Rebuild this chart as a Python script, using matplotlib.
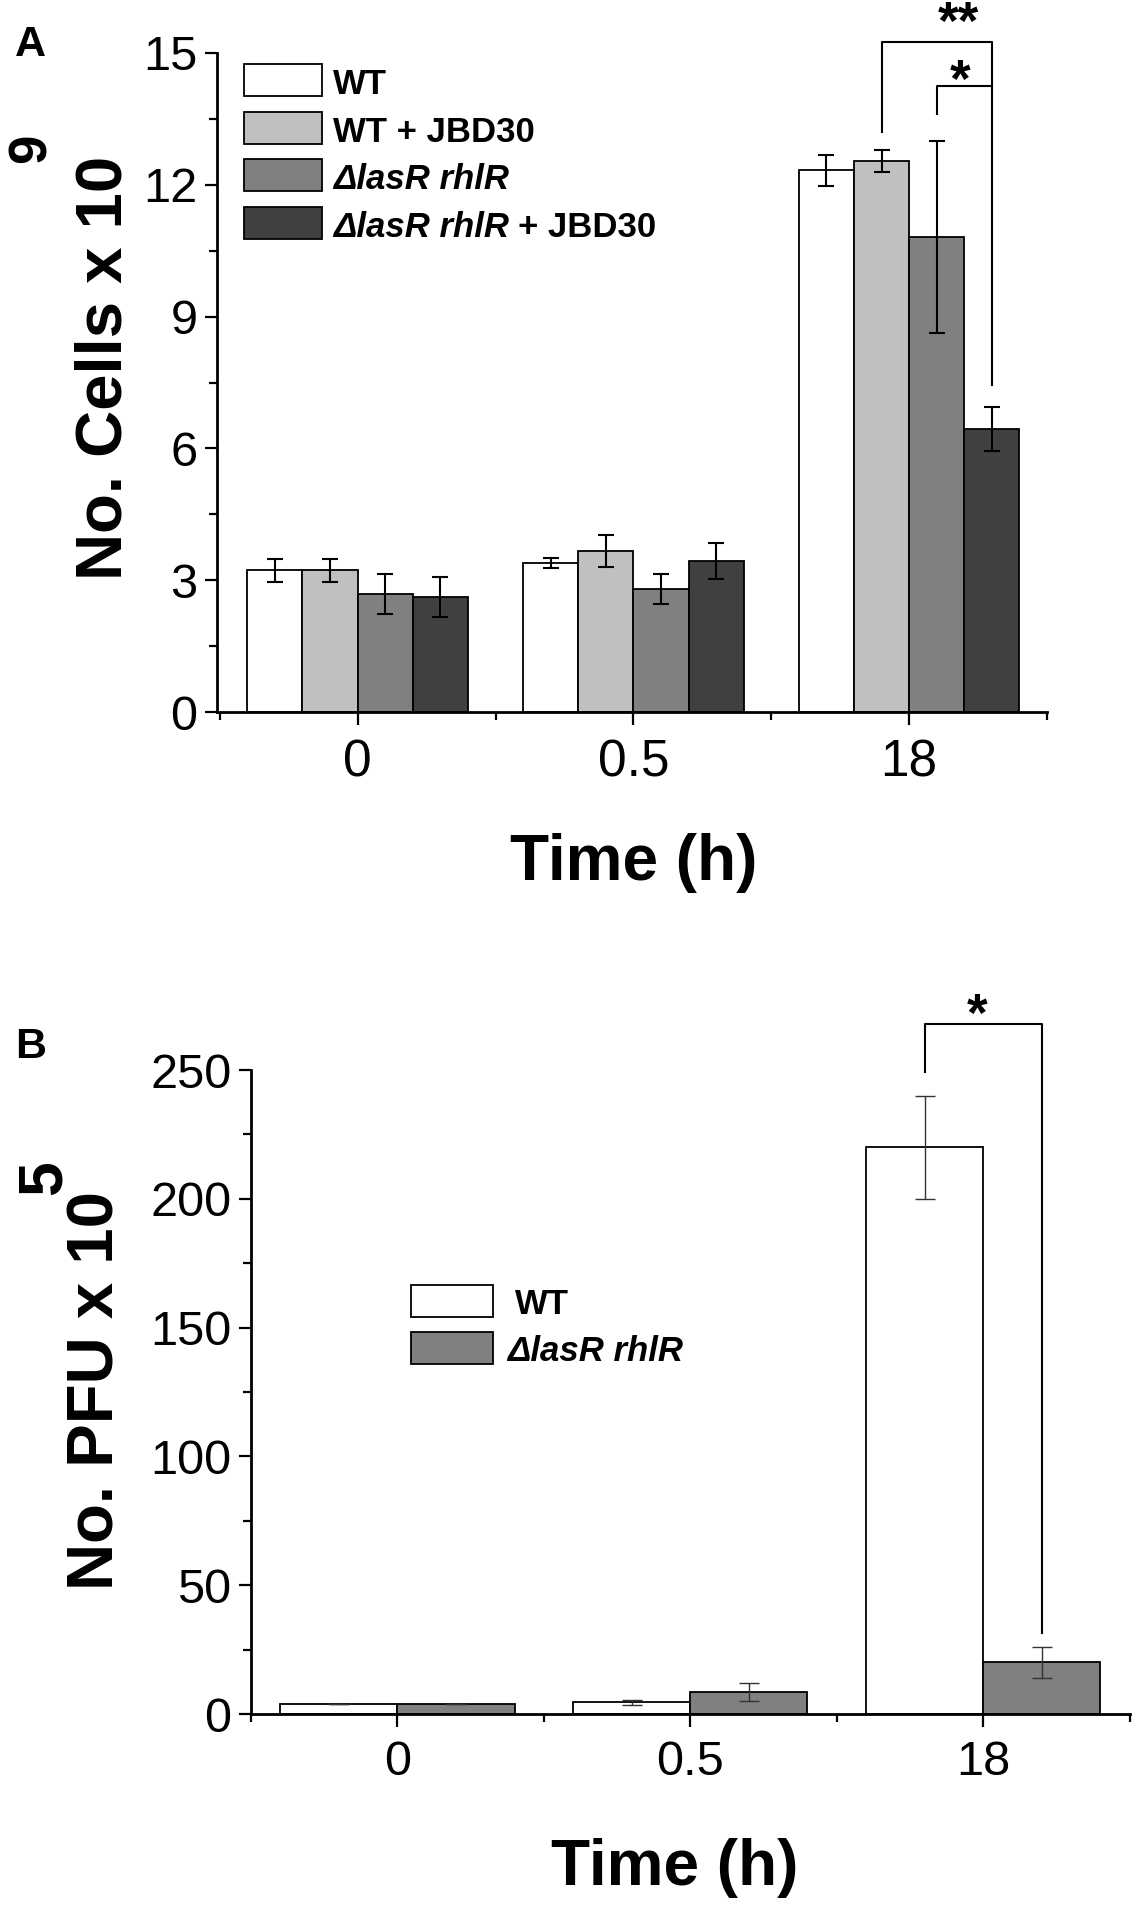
import numpy as np
import matplotlib
matplotlib.use('Agg')
import matplotlib.pyplot as plt
from matplotlib.patches import Rectangle
from matplotlib.ticker import MultipleLocator

plt.rcParams['font.family'] = ['Liberation Sans', 'DejaVu Sans']

W, H = 1133, 1911

time_labels = ['0', '0.5', '18']

# panel A : No. cells x 10^9
strains_A = ['WT', 'WT + JBD30', 'ΔlasR rhlR', 'ΔlasR rhlR + JBD30']
colors_A = ['#ffffff', '#c0c0c0', '#808080', '#404040']
cells_wt = [3.23, 3.39, 12.33]
cells_wt_err = [0.26, 0.12, 0.35]
cells_wtj = [3.23, 3.66, 12.54]
cells_wtj_err = [0.26, 0.36, 0.25]
cells_mut = [2.69, 2.79, 10.81]
cells_mut_err = [0.45, 0.34, 2.19]
cells_mutj = [2.62, 3.44, 6.45]
cells_mutj_err = [0.45, 0.41, 0.50]

# panel B : No. PFU x 10^5
strains_B = ['WT', 'ΔlasR rhlR']
colors_B = ['#ffffff', '#808080']
pfu_wt = [4.0, 4.5, 220.0]
pfu_wt_err = [0.0, 1.0, 20.0]
pfu_mut = [4.0, 8.5, 20.0]
pfu_mut_err = [0.0, 3.5, 6.0]


def fx(px):
    return px / W


def fy(py):
    return 1 - py / H


def style_axes(ax):
    for s in ['top', 'right']:
        ax.spines[s].set_visible(False)
    for s in ['left', 'bottom']:
        ax.spines[s].set_linewidth(2)
    ax.tick_params(which='major', direction='out', length=9, width=1.6, labelsize=35)
    ax.tick_params(which='minor', direction='out', length=5.5, width=1.6)
    ax.tick_params(axis='y', pad=5)
    ax.tick_params(axis='x', pad=10)
    ax.set_xticks(np.arange(3), time_labels)
    ax.set_xticks([-0.5, 0.5, 1.5, 2.5], minor=True)


def legend_label(fig, x, y, text, size=25):
    # italic strain name, then upright bold remainder
    if text.startswith('Δ'):
        name = 'ΔlasR rhlR'
        rest = text[len(name):].strip()
        t1 = fig.text(fx(x), fy(y), name, fontsize=size, fontweight='bold',
                      fontstyle='italic', va='baseline')
        if rest:
            r = fig.canvas.get_renderer()
            bb = t1.get_window_extent(r)
            fig.text(bb.x1 / fig.bbox.width + fx(9), fy(y), rest, fontsize=size,
                     fontweight='bold', va='baseline')
    else:
        fig.text(fx(x), fy(y), text, fontsize=size, fontweight='bold', va='baseline')


fig = plt.figure(figsize=(W / 100, H / 100), dpi=100)
x = np.arange(3)

##### PANEL A #####
axA = fig.add_axes([fx(217), fy(712), (1047 - 217) / W, (712 - 53) / H])
vals_A = [cells_wt, cells_wtj, cells_mut, cells_mutj]
errs_A = [cells_wt_err, cells_wtj_err, cells_mut_err, cells_mutj_err]
offs_A = [-0.3, -0.1, 0.1, 0.3]
for v, e, c, o in zip(vals_A, errs_A, colors_A, offs_A):
    axA.bar(x + o, v, 0.2, color=c, edgecolor='black', linewidth=1.3, yerr=e, capsize=6,
            error_kw=dict(elinewidth=1.5, capthick=1.5, ecolor='black', zorder=3))
axA.set_xlim(-0.51, 2.5)
axA.set_ylim(0, 15)
axA.yaxis.set_major_locator(MultipleLocator(3))
axA.yaxis.set_minor_locator(MultipleLocator(1.5))
style_axes(axA)
axA.tick_params(axis='x', labelsize=37)

# significance brackets
axA.plot([1.9, 1.9, 2.3, 2.3], [13.2, 15.24, 15.24, 7.45], color='black', lw=1.5, clip_on=False)
axA.plot([2.1, 2.1, 2.3], [13.62, 14.26, 14.26], color='black', lw=1.5, clip_on=False)
axA.text(2.18, 15.33, '**', fontsize=38, fontweight='bold', ha='center', va='baseline', clip_on=False)
axA.text(2.185, 14.0, '*', fontsize=38, fontweight='bold', ha='center', va='baseline', clip_on=False)

# legend A
for i, (lab, c) in enumerate(zip(strains_A, colors_A)):
    top = 64 + i * 47.7
    fig.add_artist(Rectangle((fx(244), fy(top + 32)), 78 / W, 32 / H, transform=fig.transFigure,
                             facecolor=c, edgecolor='black', linewidth=1.3))
    legend_label(fig, 333, top + 30, lab)

fig.text(fx(105), fy(580), 'No. Cells x 10', fontsize=47, fontweight='bold',
         rotation=90, ha='center', va='bottom')
fig.text(fx(32), fy(148), '9', fontsize=38, fontweight='bold', rotation=90, ha='center', va='center')
fig.text(fx(634), fy(880), 'Time (h)', fontsize=46, fontweight='bold', ha='center', va='baseline')
fig.text(fx(15), fy(56), 'A', fontsize=31, fontweight='bold', va='baseline')

##### PANEL B #####
axB = fig.add_axes([fx(251), fy(1714), (1129.5 - 251) / W, (1714 - 1070) / H])
vals_B = [pfu_wt, pfu_mut]
errs_B = [pfu_wt_err, pfu_mut_err]
offs_B = [-0.2, 0.2]
for v, e, c, o in zip(vals_B, errs_B, colors_B, offs_B):
    axB.bar(x + o, v, 0.4, color=c, edgecolor='black', linewidth=1.3, yerr=e, capsize=7,
            error_kw=dict(elinewidth=1.0, capthick=1.0, ecolor='#333333', zorder=3))
axB.set_xlim(-0.5, 2.5)
axB.set_ylim(0, 250)
axB.yaxis.set_major_locator(MultipleLocator(50))
axB.yaxis.set_minor_locator(MultipleLocator(25))
style_axes(axB)

axB.plot([1.8, 1.8, 2.2, 2.2], [249.2, 267.9, 267.9, 31.4], color='black', lw=1.5, clip_on=False)
axB.text(1.98, 265.0, '*', fontsize=38, fontweight='bold', ha='center', va='baseline', clip_on=False)

# legend B
for i, (lab, c) in enumerate(zip(strains_B, colors_B)):
    top = 1285 + i * 47
    fig.add_artist(Rectangle((fx(411), fy(top + 32)), 82 / W, 32 / H, transform=fig.transFigure,
                             facecolor=c, edgecolor='black', linewidth=1.3))
    legend_label(fig, 515 if i == 0 else 507, top + 29, lab)

fig.text(fx(96), fy(1590), 'No. PFU x 10', fontsize=47, fontweight='bold',
         rotation=90, ha='center', va='bottom')
fig.text(fx(44), fy(1178), '5', fontsize=45, fontweight='bold', rotation=90, ha='center', va='center')
fig.text(fx(675), fy(1885), 'Time (h)', fontsize=46, fontweight='bold', ha='center', va='baseline')
fig.text(fx(15), fy(1058), 'B', fontsize=31, fontweight='bold', va='baseline')

fig.savefig('out.png', dpi=100)
